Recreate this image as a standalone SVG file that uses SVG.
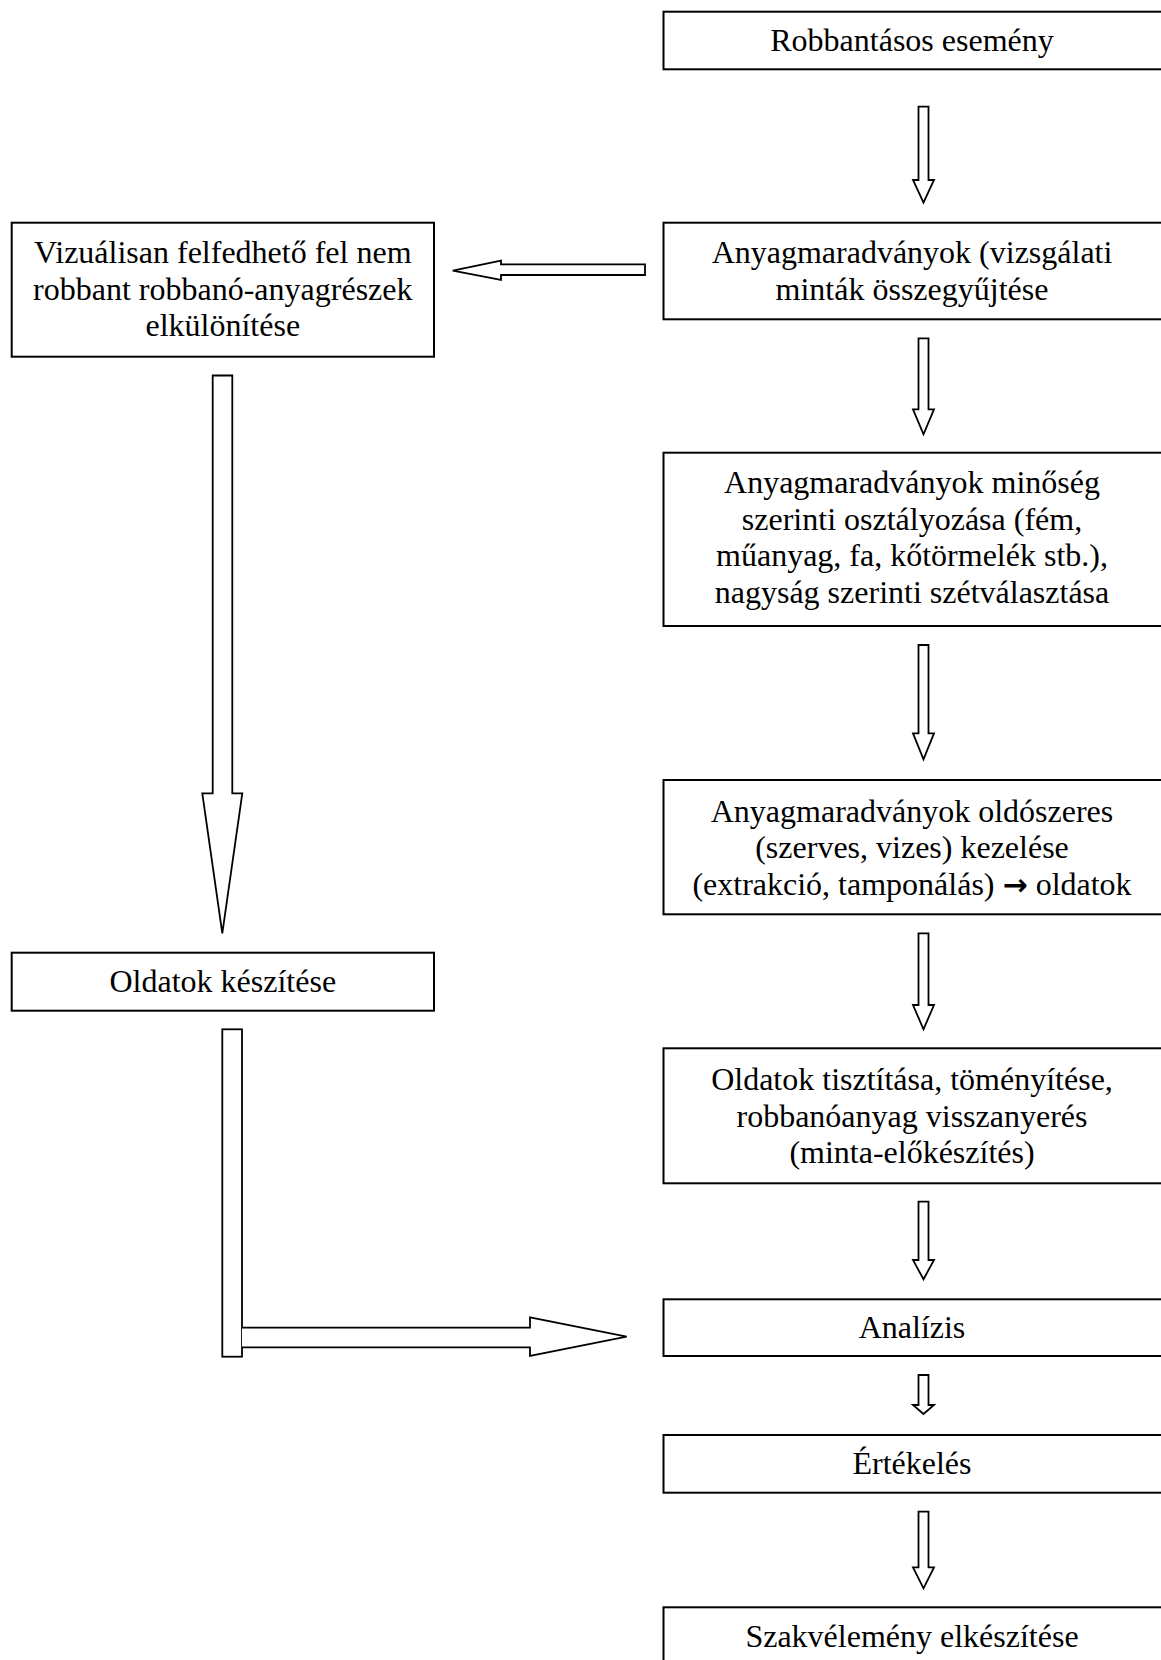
<svg xmlns="http://www.w3.org/2000/svg" width="1161" height="1660" viewBox="0 0 1161 1660">
<style>
.box{fill:#fff;stroke:#000;stroke-width:2}
.arr{fill:#fff;stroke:#000;stroke-width:1.8;stroke-linejoin:miter}
.t{font-family:"Liberation Serif","Times New Roman",serif;font-size:32px;fill:#000;text-anchor:middle}
.sym{font-family:"DejaVu Sans",sans-serif;font-size:30px;font-weight:bold}
</style>
<rect width="1161" height="1660" fill="#fff"/>
<g id="connectors">
<path class="arr" d="M918.5,106.7 H928.5 V180 H934 L923.5,202.7 L913,180 H918.5 Z"/>
<path class="arr" d="M918.5,338.3 H928.5 V409.3 H934 L923.5,434.3 L913,409.3 H918.5 Z"/>
<path class="arr" d="M918.5,645 H928.5 V733.3 H934 L923.5,759.3 L913,733.3 H918.5 Z"/>
<path class="arr" d="M918.5,933.3 H928.5 V1005 H934 L923.5,1029.3 L913,1005 H918.5 Z"/>
<path class="arr" d="M918.5,1201.7 H928.5 V1260 H934 L923.5,1279.3 L913,1260 H918.5 Z"/>
<path class="arr" d="M918.5,1375 H928.5 V1405 H934 L923.5,1414 L913,1405 H918.5 Z"/>
<path class="arr" d="M918.5,1511.7 H928.5 V1567.3 H934 L923.5,1588.3 L913,1567.3 H918.5 Z"/>
<path class="arr" d="M645,264.3 V275 H501 V280 L452.7,270.7 L501,260.7 V264.3 Z"/>
<path class="arr" d="M212.7,375.5 H232.3 V793.3 H242.3 L222.3,933.3 L202.3,793.3 H212.7 Z"/>
<rect class="arr" x="222.3" y="1029.3" width="19.7" height="327.4"/>
<path class="arr" d="M242,1327.7 H530 V1317.3 L626.7,1336.7 L530,1356 V1347.3 H242"/>
</g>
<g id="n1"><rect class="box" x="663.5" y="11.7" width="500" height="57.6"/><text class="t" x="912" y="51">Robbantásos esemény</text></g>
<g id="n2"><rect class="box" x="663.5" y="222.7" width="500" height="96.6"/><text class="t" x="912" y="263.3">Anyagmaradványok (vizsgálati</text><text class="t" x="912" y="299.5">minták összegyűjtése</text></g>
<g id="n3"><rect class="box" x="11.7" y="222.7" width="422.3" height="134"/><text class="t" x="222.8" y="263">Vizuálisan felfedhető fel nem</text><text class="t" x="222.8" y="299.5">robbant robbanó-anyagrészek</text><text class="t" x="222.8" y="336">elkülönítése</text></g>
<g id="n4"><rect class="box" x="663.5" y="452.7" width="500" height="173.3"/><text class="t" x="912" y="493.3">Anyagmaradványok minőség</text><text class="t" x="912" y="529.8">szerinti osztályozása (fém,</text><text class="t" x="912" y="566.3">műanyag, fa, kőtörmelék stb.),</text><text class="t" x="912" y="602.8">nagyság szerinti szétválasztása</text></g>
<g id="n5"><rect class="box" x="663.5" y="780" width="500" height="134.3"/><text class="t" x="912" y="821.7">Anyagmaradványok oldószeres</text><text class="t" x="912" y="858.2">(szerves, vizes) kezelése</text><text class="t" x="912" y="894.7">(extrakció, tamponálás) <tspan class="sym">→</tspan> oldatok</text></g>
<g id="n6"><rect class="box" x="11.7" y="952.7" width="422.3" height="58"/><text class="t" x="222.8" y="992">Oldatok készítése</text></g>
<g id="n7"><rect class="box" x="663.5" y="1048.3" width="500" height="135"/><text class="t" x="912" y="1090">Oldatok tisztítása, töményítése,</text><text class="t" x="912" y="1126.5">robbanóanyag visszanyerés</text><text class="t" x="912" y="1163">(minta-előkészítés)</text></g>
<g id="n8"><rect class="box" x="663.5" y="1299.3" width="500" height="56.7"/><text class="t" x="912" y="1338">Analízis</text></g>
<g id="n9"><rect class="box" x="663.5" y="1435" width="500" height="57.7"/><text class="t" x="912" y="1474">Értékelés</text></g>
<g id="n10"><rect class="box" x="663.5" y="1607.3" width="500" height="80"/><text class="t" x="912" y="1646.7">Szakvélemény elkészítése</text></g>
</svg>
